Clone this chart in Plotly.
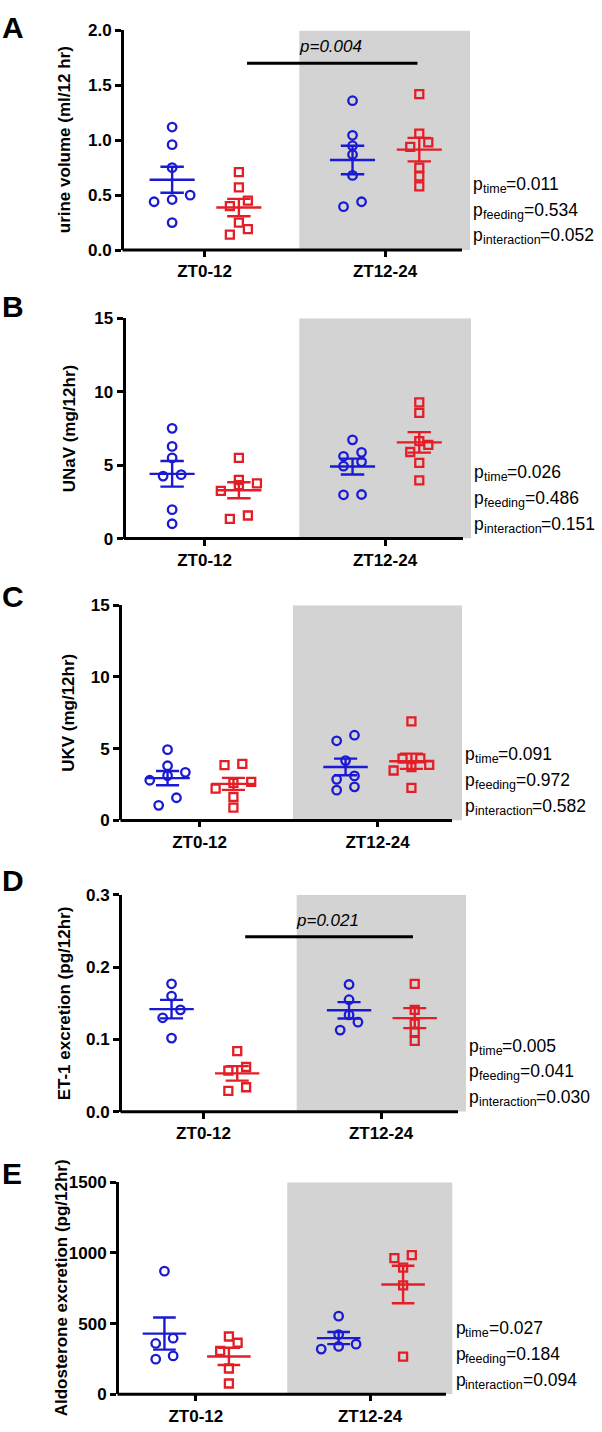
import numpy as np
import plotly.graph_objects as go

W, H = 602, 1432

# ---------------- data ----------------
categories = ["ZT0-12", "ZT12-24"]

# A: urine volume (ml/12 hr)
urine_blue_zt0 = [1.12, 0.96, 0.75, 0.50, 0.46, 0.44, 0.25]
urine_red_zt0 = [0.71, 0.57, 0.45, 0.40, 0.25, 0.19, 0.14]
urine_blue_zt12 = [1.36, 1.045, 0.95, 0.87, 0.68, 0.44, 0.395]
urine_red_zt12 = [1.42, 1.06, 0.98, 0.94, 0.75, 0.67, 0.58]

# B: UNaV (mg/12hr)
unav_blue_zt0 = [7.50, 6.27, 5.49, 4.35, 4.25, 1.97, 1.01]
unav_red_zt0 = [5.49, 3.99, 3.76, 3.63, 3.25, 1.57, 1.34]
unav_blue_zt12 = [6.72, 5.87, 5.60, 5.22, 4.93, 3.00, 2.98]
unav_red_zt12 = [9.27, 8.55, 6.63, 6.38, 5.89, 5.15, 3.96]

# C: UKV (mg/12hr)
ukv_blue_zt0 = [4.93, 3.81, 3.35, 3.12, 2.80, 1.58, 1.05]
ukv_red_zt0 = [3.94, 3.85, 2.68, 2.61, 2.22, 1.63, 0.89]
ukv_blue_zt12 = [5.94, 5.55, 4.17, 3.10, 2.86, 2.34, 2.11]
ukv_red_zt12 = [6.90, 4.33, 4.30, 3.87, 3.71, 3.48, 2.27]

# D: ET-1 excretion (pg/12hr)
et1_blue_zt0 = [0.177, 0.160, 0.141, 0.130, 0.102]
et1_red_zt0 = [0.084, 0.062, 0.057, 0.034, 0.029]
et1_blue_zt12 = [0.176, 0.155, 0.134, 0.124, 0.113]
et1_red_zt12 = [0.177, 0.141, 0.122, 0.110, 0.098]

# E: Aldosterone excretion (pg/12hr)
aldo_blue_zt0 = [871, 397, 360, 272, 249]
aldo_red_zt0 = [409, 365, 307, 183, 77]
aldo_blue_zt12 = [553, 423, 355, 339, 320]
aldo_red_zt12 = [985, 964, 896, 771, 267]

# two-way ANOVA p values
p_labels = ["time", "feeding", "interaction"]
p_time = ["0.011", "0.026", "0.091", "0.005", "0.027"]
p_feeding = ["0.534", "0.486", "0.972", "0.041", "0.184"]
p_interaction = ["0.052", "0.151", "0.582", "0.030", "0.094"]

# pairwise comparisons (panel index -> p text)
pair_p = {0: "p=0.004", 3: "p=0.021"}
pair_level = {0: 1.7, 3: 0.242}

letters = ["A", "B", "C", "D", "E"]
y_titles = ["urine volume (ml/12 hr)", "UNaV (mg/12hr)", "UKV (mg/12hr)",
            "ET-1 excretion (pg/12hr)", "Aldosterone excretion (pg/12hr)"]
y_max = [2.0, 15, 15, 0.3, 1500]
y_dtick = [0.5, 5, 5, 0.1, 500]
y_fmt = [".1f", "d", "d", ".1f", "d"]

blue_groups = [
    [urine_blue_zt0, urine_blue_zt12],
    [unav_blue_zt0, unav_blue_zt12],
    [ukv_blue_zt0, ukv_blue_zt12],
    [et1_blue_zt0, et1_blue_zt12],
    [aldo_blue_zt0, aldo_blue_zt12],
]
red_groups = [
    [urine_red_zt0, urine_red_zt12],
    [unav_red_zt0, unav_red_zt12],
    [ukv_red_zt0, ukv_red_zt12],
    [et1_red_zt0, et1_red_zt12],
    [aldo_red_zt0, aldo_red_zt12],
]

# ---------------- layout geometry (pixels) ----------------
geom = [
    dict(ax=124, t0=204.6, t1=385.0, right=470, end=462, ytop=21.7, ybot=244.3, letter_y=19, title_x=64),
    dict(ax=125.5, t0=204.6, t1=385.0, right=471, end=463, ytop=313.3, ybot=536.7, letter_y=302, title_x=69),
    dict(ax=122, t0=199.6, t1=377.6, right=462, end=452, ytop=604.3, ybot=822.3, letter_y=595, title_x=69),
    dict(ax=122, t0=203.5, t1=381.0, right=466, end=458, ytop=897.7, ybot=1117.7, letter_y=883, title_x=64),
    dict(ax=119, t0=195.8, t1=370.0, right=452.5, end=446, ytop=1189, ybot=1404, letter_y=1180, title_x=61),
]

BLUE = "#1a1ad2"
RED = "#e41e26"
GRAY = "#d3d3d3"
FONT = "Arial, Liberation Sans, sans-serif"
P_SIZE = 17.5
SUB_SIZE = 12.5

# Arial advance widths (em/1000) used to chain the subscript pieces
ARIAL_W = {"p": 556, "t": 278, "i": 222, "m": 833, "e": 556, "f": 278, "d": 556,
           "n": 556, "g": 556, "r": 333, "a": 556, "c": 500, "o": 556}


def text_w(s, size):
    return sum(ARIAL_W.get(ch, 556) for ch in s) / 1000 * size


def swarm(vals, px_per_unit, thr=8.5, step=0.1):
    order = sorted(range(len(vals)), key=lambda i: vals[i])
    rows = []
    for i in order:
        if rows and (vals[i] - vals[rows[-1][0]]) * px_per_unit < thr:
            rows[-1].append(i)
        else:
            rows.append([i])
    off = [0.0] * len(vals)
    for r in rows:
        n = len(r)
        for k, i in enumerate(r):
            off[i] = (k - (n - 1) / 2) * step
    return off


fig = go.Figure()
shapes, annotations = [], []
lay = {}


def txt(x, y, text, size, xanchor="left", yanchor="middle", **kw):
    d = dict(xref="paper", yref="paper", x=x / W, y=1 - y / H, text=text, showarrow=False,
             xanchor=xanchor, yanchor=yanchor, borderpad=0, borderwidth=0,
             font=dict(family=FONT, size=size, color="black"))
    d.update(kw)
    return d


for i, g in enumerate(geom):
    n = "" if i == 0 else str(i + 1)
    span = g["t1"] - g["t0"]
    xr = [(g["ax"] - g["t0"]) / span, (g["right"] - g["t0"]) / span]
    ymx = y_max[i]
    pxu = (g["ybot"] - g["ytop"]) / ymx

    for gi in range(2):
        for vals, col, sym, off in [(blue_groups[i][gi], BLUE, "circle-open", -0.18),
                                    (red_groups[i][gi], RED, "square-open", 0.19)]:
            jit = swarm(vals, pxu)
            xs = [gi + off + j for j in jit]
            fig.add_trace(go.Scatter(
                x=xs, y=vals, mode="markers",
                marker=dict(symbol=sym, size=8.5 if sym.startswith("circle") else 8,
                            color=col, line=dict(width=2.3, color=col)),
                xaxis="x" + n, yaxis="y" + n, showlegend=False, cliponaxis=False,
                hoverinfo="skip"))
            m = float(np.mean(vals))
            s = float(np.std(vals, ddof=1) / np.sqrt(len(vals)))
            c = gi + off
            lx = [c - 0.125, c + 0.125, None, c, c, None,
                  c - 0.065, c + 0.065, None, c - 0.065, c + 0.065]
            ly = [m, m, None, m - s, m + s, None, m + s, m + s, None, m - s, m - s]
            fig.add_trace(go.Scatter(
                x=lx, y=ly, mode="lines", line=dict(color=col, width=2.4),
                xaxis="x" + n, yaxis="y" + n, showlegend=False, cliponaxis=False,
                hoverinfo="skip"))

    tickfont = dict(family=FONT, size=17, color="black", weight="bold")
    lay["xaxis" + n] = dict(
        domain=[g["ax"] / W, g["right"] / W], range=xr, anchor="y" + n,
        tickmode="array", tickvals=[0, 1], ticktext=categories,
        ticks="outside", ticklen=6, tickwidth=3, tickcolor="black",
        showline=False, showgrid=False, zeroline=False, tickfont=tickfont,
        fixedrange=True)
    lay["yaxis" + n] = dict(
        domain=[1 - g["ybot"] / H, 1 - g["ytop"] / H], range=[0, ymx], anchor="x" + n,
        tick0=0, dtick=y_dtick[i], tickformat=y_fmt[i],
        ticks="outside", ticklen=6, tickwidth=3, tickcolor="black",
        showline=True, linewidth=3, linecolor="black",
        showgrid=False, zeroline=False, tickfont=tickfont, fixedrange=True)

    # dark-phase shading
    shapes.append(dict(type="rect", xref="x" + n, yref="y" + n, x0=0.525, x1=xr[1],
                       y0=0, y1=ymx, fillcolor=GRAY, line=dict(width=0), layer="below"))
    # x axis line
    shapes.append(dict(type="line", xref="paper", yref="paper",
                       x0=(g["ax"] - 1.5) / W, x1=g["end"] / W,
                       y0=1 - g["ybot"] / H, y1=1 - g["ybot"] / H,
                       line=dict(color="black", width=3)))

    if i in pair_p:
        lvl = pair_level[i]
        shapes.append(dict(type="line", xref="x" + n, yref="y" + n, x0=0.235, x1=1.18,
                           y0=lvl, y1=lvl, line=dict(color="black", width=3)))
        annotations.append(dict(xref="x" + n, yref="y" + n, x=0.70, y=lvl + ymx * 0.075,
                                text="<i>" + pair_p[i] + "</i>", showarrow=False,
                                xanchor="center", yanchor="middle",
                                font=dict(family=FONT, size=17, color="black")))

    # y title
    annotations.append(txt(g["title_x"], (g["ytop"] + g["ybot"]) / 2,
                           "<b>" + y_titles[i] + "</b>", 17, xanchor="center",
                           textangle=-90))
    # panel letter
    annotations.append(txt(2, g["letter_y"], "<b>" + letters[i] + "</b>", 30))

    # ANOVA p values: "p", subscript label, "=value" as chained pieces
    x0 = g["right"] + 3
    for k, (lab, val) in enumerate(zip(p_labels, [p_time[i], p_feeding[i], p_interaction[i]])):
        yc = g["ybot"] - 68 + 26 * k + 1
        annotations.append(txt(x0, yc, "p", P_SIZE))
        xs_ = x0 + text_w("p", P_SIZE)
        annotations.append(txt(xs_, yc + 5, lab, SUB_SIZE))
        xv = xs_ + text_w(lab, SUB_SIZE)
        annotations.append(txt(xv, yc, "=" + val, P_SIZE))

fig.update_layout(
    width=W, height=H, autosize=False,
    margin=dict(l=0, r=0, t=0, b=0),
    font=dict(family=FONT, size=17, color="black"),
    paper_bgcolor="white", plot_bgcolor="white",
    shapes=shapes, annotations=annotations, showlegend=False,
    **lay)

fig.write_html("out.html", config={"displayModeBar": False},
               post_script="document.body.style.margin='0px';document.body.style.overflow='hidden';")
